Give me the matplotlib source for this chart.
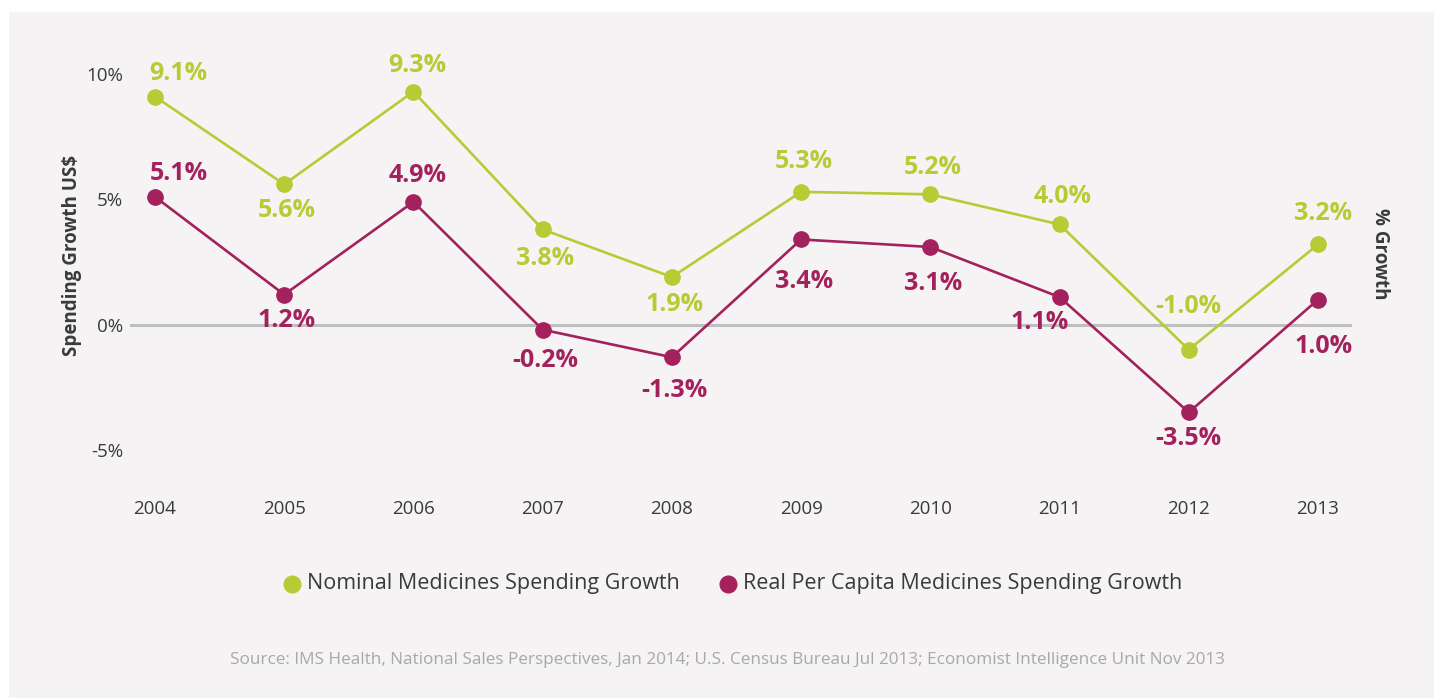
import numpy as np
import matplotlib
matplotlib.use("Agg")
from matplotlib import pyplot as plt
from matplotlib.patches import Rectangle

plt.rcParams['font.family'] = ['Open Sans', 'DejaVu Sans']

years = [2004, 2005, 2006, 2007, 2008, 2009, 2010, 2011, 2012, 2013]
nominal = [9.1, 5.6, 9.3, 3.8, 1.9, 5.3, 5.2, 4.0, -1.0, 3.2]
real_per_capita = [5.1, 1.2, 4.9, -0.2, -1.3, 3.4, 3.1, 1.1, -3.5, 1.0]
nominal_label = "Nominal Medicines Spending Growth"
real_label = "Real Per Capita Medicines Spending Growth"
source = ("Source: IMS Health, National Sales Perspectives, Jan 2014; "
          "U.S. Census Bureau Jul 2013; Economist Intelligence Unit Nov 2013")

GREEN = "#b5cc34"
MAGENTA = "#a3215d"
TEXT = "#3a3a3a"

# label offsets in points (dy positive = above the point)
nominal_dy = [17, -19, 19, -21, -20, 22, 19, 20, 31, 22]
real_dy = [17, -19, 19, -22, -24, -30, -26, -18, -19, -34]
nominal_dx = [17, 2, 3, 2, 2, 2, 2, 2, 0, 4]
real_dx = [17, 2, 3, 2, 2, 2, 2, -14, 0, 4]


def main():
    fig = plt.figure(figsize=(14.34, 6.98), dpi=100, facecolor="white")
    W, H = 1434, 698
    fig.patches.append(Rectangle((9 / W, 0), 1, 1 - 12 / H, transform=fig.transFigure,
                                 facecolor="#f5f3f4", edgecolor="none", zorder=-10))

    ax = fig.add_axes([130 / W, 1 - 475 / H, (1352 - 130) / W, (475 - 40) / H])
    ax.set_facecolor("none")
    for s in ax.spines.values():
        s.set_visible(False)

    ax.axhline(0, color="#bfbfbf", lw=2.2, zorder=1)

    for vals, color, dxs, dys in [(nominal, GREEN, nominal_dx, nominal_dy),
                                  (real_per_capita, MAGENTA, real_dx, real_dy)]:
        ax.plot(years, vals, color=color, lw=1.9, marker="o", ms=11, zorder=3)
        for i, (x, y) in enumerate(zip(years, vals)):
            ax.annotate(f"{y:.1f}%", (x, y), xytext=(dxs[i], dys[i]),
                        textcoords="offset points", ha="center", va="center",
                        fontsize=18, fontweight="bold", color=color, zorder=4)

    ax.set_xlim(2004 - 25 / 129.2, 2013 + 34 / 129.2)
    ax.set_ylim(-6.0, 11.36)
    ax.set_xticks(years)
    ax.set_yticks([-5, 0, 5, 10])
    ax.set_yticklabels(["-5%", "0%", "5%", "10%"])
    ax.tick_params(axis="both", length=0, labelsize=13.5, labelcolor=TEXT)
    ax.tick_params(axis="x", pad=18)
    ax.tick_params(axis="y", pad=5)

    fig.text(72 / W, 1 - 255 / H, "Spending Growth US$", rotation=90, ha="center",
             va="center", fontsize=13.5, fontweight="bold", color=TEXT)
    fig.text(1380 / W, 1 - 254 / H, "% Growth", rotation=-90, ha="center",
             va="center", fontsize=13.5, fontweight="bold", color=TEXT)

    # legend drawn by hand so the two entries sit on one centred row
    ly = 1 - 584 / H
    for dot_x, color, label in [(292, GREEN, nominal_label), (728, MAGENTA, real_label)]:
        fig.add_artist(plt.Line2D([dot_x / W], [ly], marker="o", ms=12, color=color,
                                  transform=fig.transFigure))
        fig.text((dot_x + 15) / W, ly, label, ha="left", va="center",
                 fontsize=15.5, color=TEXT)

    fig.text(727 / W, 1 - 660 / H, source, ha="center", va="center",
             fontsize=12.3, color="#a8a8a8")

    fig.savefig("out.png", dpi=100, facecolor=fig.get_facecolor())


if __name__ == '__main__':
    main()
